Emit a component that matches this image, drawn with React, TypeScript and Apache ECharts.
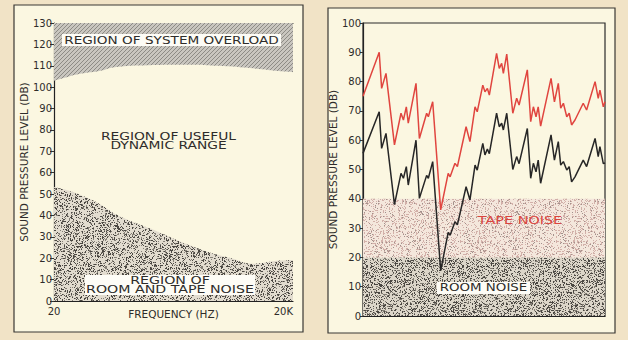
import React, { useEffect, useRef } from 'react';
import * as echarts from 'echarts';

// ---------- Left chart data ----------
const overloadFreqHz = [20, 28, 40, 74, 121, 317, 834, 2200, 5760, 15300, 20000];
const overloadLevelDb = [103, 104.5, 106, 107.5, 109.4, 110.3, 110.5, 110, 108.9, 107.3, 107];
const noiseFreqHz = [20, 28, 40, 74, 121, 317, 1350, 3560, 6200, 12400, 20000];
const noiseLevelDb = [53.3, 52, 50, 45.5, 40.5, 34, 24.3, 19.7, 17.4, 18.8, 19.2];
const freqAxisLabels = ['20', '20K'];

// ---------- Right chart data ----------
const positionPct = [0, 6.7, 7.7, 9.5, 13.0, 15.7, 16.7, 17.9, 18.7, 21.9, 23.3, 26.3, 27.0, 28.8, 32.1,
  35.2, 36.0, 38.0, 39.0, 42.6, 44.2, 46.3, 47.2, 49.5, 50.4, 51.4, 52.2, 55.2, 56.3, 57.3, 58.0, 59.4,
  61.9, 63.5, 64.5, 67.9, 69.3, 70.4, 71.5, 72.4, 73.4, 77.7, 79.1, 80.7, 81.7, 82.8, 84.2, 85.2, 86.2,
  87.6, 91.0, 92.4, 95.9, 97.2, 97.9, 99.3, 100];
const redLevelDb = [75, 90, 77.7, 82.8, 58.4, 69.2, 66.9, 71.4, 65.8, 79.4, 60.6, 69.2, 68, 73.1, 36.2,
  48.7, 47.5, 52.1, 51, 64.6, 59.5, 71.4, 69.7, 78.8, 76.5, 77.7, 75.4, 89.6, 84.5, 86.2, 82.8, 89.4,
  69.2, 74.3, 72, 84, 66.3, 71.4, 68, 71.4, 64.8, 81.1, 73.1, 79.4, 70.9, 72.6, 68, 69.2, 65.2,
  66.9, 72.6, 70.3, 80, 74.3, 77.1, 71.4, 73.1];
const blackLevelDb = [55.5, 69.7, 57.2, 62.3, 38, 48.7, 47, 51, 44.7, 60, 40.2, 48, 47, 52.7, 15.5,
  28.5, 27.6, 32.2, 31.1, 44.1, 39.6, 51.5, 49.8, 58.9, 55, 57, 55.4, 69.2, 64.6, 65.8, 63.5, 69.2,
  50, 54.4, 52, 64, 47, 52.1, 49.2, 53.2, 45.3, 61.8, 53.2, 59.5, 51.5, 52.7, 49.8, 51, 45.8,
  47.5, 53.2, 51, 60.6, 54.4, 57.8, 52, 52.2];
const roomNoiseDb = 20;
const tapeNoiseDb = 40;

const FONT = 'DejaVu Sans';
const INK = '#2e2c2a';

function makeStipple(size: number, bg: string, dots: [string, number][], seed: number) {
  const c = document.createElement('canvas');
  c.width = size;
  c.height = size;
  const ctx = c.getContext('2d')!;
  ctx.fillStyle = bg;
  ctx.fillRect(0, 0, size, size);
  let s = seed >>> 0;
  const rnd = () => {
    s = (Math.imul(s, 1103515245) + 12345) >>> 0;
    return s / 4294967296;
  };
  for (const [col, density] of dots) {
    ctx.fillStyle = col;
    const n = Math.floor(size * size * density);
    for (let i = 0; i < n; i++) {
      ctx.fillRect(Math.floor(rnd() * size), Math.floor(rnd() * size), 1, 1);
    }
  }
  return c;
}

function makeHatch() {
  const c = document.createElement('canvas');
  c.width = 4;
  c.height = 4;
  const ctx = c.getContext('2d')!;
  ctx.fillStyle = '#c9c6bf';
  ctx.fillRect(0, 0, 4, 4);
  ctx.fillStyle = '#8d8b85';
  for (let i = 0; i < 4; i++) ctx.fillRect(i, 3 - i, 1, 1);
  return c;
}

export default function App() {
  const ref = useRef<HTMLDivElement>(null);
  useEffect(() => {
    if (!ref.current) return;
    const chart = echarts.init(ref.current, null, { renderer: 'svg' });

    const hatch = makeHatch();
    const darkStipple = makeStipple(96, '#dcd6c9', [['#4a4742', 0.26], ['#807b72', 0.16]], 7);
    const leftStipple = makeStipple(96, '#e2dccf', [['#4a4742', 0.24], ['#858077', 0.14]], 29);
    const pinkStipple = makeStipple(96, '#f4e7dc', [['#d2b0a9', 0.22], ['#a2918c', 0.06]], 13);

    const toDecades = (f: number) => Math.log10(f / 20);
    const axisLabelStyle = { color: INK, fontSize: 10, fontFamily: FONT };

    const option: any = {
      animation: false,
      backgroundColor: 'transparent',
      textStyle: { fontFamily: FONT },
      grid: [
        { left: 54, top: 23, width: 239, height: 278, show: false },
        { left: 363, top: 23, width: 242, height: 293, show: true, borderColor: '#2b2b2b', borderWidth: 1.2, backgroundColor: 'transparent' },
      ],
      xAxis: [
        {
          gridIndex: 0, type: 'value', min: 0, max: 3, interval: 3,
          axisLine: { show: true, lineStyle: { color: '#222', width: 1.2 } },
          axisTick: { show: false }, splitLine: { show: false },
          axisLabel: {
            ...axisLabelStyle, margin: 5,
            formatter: (v: number) => (v === 0 ? freqAxisLabels[0] : freqAxisLabels[1]),
            alignMinLabel: 'center', alignMaxLabel: 'right',
          },
          name: 'FREQUENCY (HZ)', nameLocation: 'middle', nameGap: 7, nameMoveOverlap: false,
          nameTextStyle: { color: INK, fontSize: 10.5, fontFamily: FONT },
        },
        {
          gridIndex: 0, type: 'value', min: 0, max: 3, position: 'top',
          axisLine: { show: true, lineStyle: { color: '#333', width: 1 } },
          axisTick: { show: false }, axisLabel: { show: false }, splitLine: { show: false },
        },
        {
          gridIndex: 1, type: 'value', min: 0, max: 100,
          axisLine: { show: true, lineStyle: { color: '#222', width: 1.2 } },
          axisTick: { show: false }, axisLabel: { show: false }, splitLine: { show: false },
        },
      ],
      yAxis: [
        {
          gridIndex: 0, type: 'value', min: 0, max: 130, interval: 10,
          axisLine: { show: true, lineStyle: { color: '#222', width: 1.2 } },
          axisTick: { show: true, length: 4, lineStyle: { color: '#333' } },
          splitLine: { show: false },
          axisLabel: { ...axisLabelStyle, margin: 2 },
          name: 'SOUND PRESSURE LEVEL (DB)', nameLocation: 'middle', nameGap: 21,
          nameTextStyle: { color: INK, fontSize: 10.5, fontFamily: FONT },
        },
        {
          gridIndex: 1, type: 'value', min: 0, max: 100, interval: 10,
          axisLine: { show: true, lineStyle: { color: '#222', width: 1.2 } },
          axisTick: { show: true, length: 3, lineStyle: { color: '#333' } },
          splitLine: { show: false },
          axisLabel: { ...axisLabelStyle, margin: 2 },
          name: 'SOUND PRESSURE LEVEL (DB)', nameLocation: 'middle', nameGap: 19,
          nameTextStyle: { color: INK, fontSize: 10.5, fontFamily: FONT },
        },
      ],
      series: [
        {
          name: 'System overload', type: 'line', xAxisIndex: 0, yAxisIndex: 0,
          data: overloadFreqHz.map((f, i) => [toDecades(f), overloadLevelDb[i]]),
          smooth: true, symbol: 'none', silent: true,
          lineStyle: { width: 0 },
          areaStyle: { origin: 'end', opacity: 1, color: { image: hatch, repeat: 'repeat' } },
        },
        {
          name: 'Room and tape noise', type: 'line', xAxisIndex: 0, yAxisIndex: 0,
          data: noiseFreqHz.map((f, i) => [toDecades(f), noiseLevelDb[i]]),
          smooth: true, symbol: 'none', silent: true,
          lineStyle: { width: 0 },
          areaStyle: { origin: 'start', opacity: 1, color: { image: leftStipple, repeat: 'repeat' } },
        },
        {
          name: 'Noise bands', type: 'line', xAxisIndex: 2, yAxisIndex: 1,
          data: [], symbol: 'none', silent: true, z: 1,
          markArea: {
            silent: true,
            data: [
              [{ yAxis: 0, itemStyle: { color: { image: darkStipple, repeat: 'repeat' }, opacity: 1 } }, { yAxis: roomNoiseDb }],
              [{ yAxis: roomNoiseDb, itemStyle: { color: { image: pinkStipple, repeat: 'repeat' }, opacity: 1 } }, { yAxis: tapeNoiseDb }],
            ],
          },
        },
        {
          name: 'Red', type: 'line', xAxisIndex: 2, yAxisIndex: 1,
          data: positionPct.map((x, i) => [x, redLevelDb[i]]),
          symbol: 'none', z: 5,
          lineStyle: { color: '#e0453f', width: 1.5 },
        },
        {
          name: 'Black', type: 'line', xAxisIndex: 2, yAxisIndex: 1,
          data: positionPct.map((x, i) => [x, blackLevelDb[i]]),
          symbol: 'none', z: 5,
          lineStyle: { color: '#262626', width: 1.5 },
        },
      ],
      graphic: [
        { type: 'rect', z: -10, shape: { x: 14, y: 5, width: 289, height: 327 }, style: { fill: '#fbf7e1', stroke: '#3a3834', lineWidth: 1.2 } },
        { type: 'rect', z: -10, shape: { x: 328, y: 8, width: 287, height: 325 }, style: { fill: '#fbf7e1', stroke: '#3a3834', lineWidth: 1.2 } },
        { type: 'rect', z: 50, shape: { x: 62, y: 34, width: 219, height: 12 }, style: { fill: '#fdfcf6' } },
        { type: 'text', z: 51, x: 171.5, y: 40.5, scaleX: 1.24, style: { text: 'REGION OF SYSTEM OVERLOAD', fill: INK, font: `11px "${FONT}"`, align: 'center', verticalAlign: 'middle' } },
        { type: 'text', z: 51, x: 168.5, y: 137, scaleX: 1.38, style: { text: 'REGION OF USEFUL', fill: INK, font: `10px "${FONT}"`, align: 'center', verticalAlign: 'middle' } },
        { type: 'text', z: 51, x: 168.5, y: 146, scaleX: 1.38, style: { text: 'DYNAMIC RANGE', fill: INK, font: `10px "${FONT}"`, align: 'center', verticalAlign: 'middle' } },
        { type: 'rect', z: 50, shape: { x: 85, y: 275, width: 170, height: 20 }, style: { fill: '#fdfcf6' } },
        { type: 'text', z: 51, x: 170, y: 280.5, scaleX: 1.42, style: { text: 'REGION OF', fill: INK, font: `10px "${FONT}"`, align: 'center', verticalAlign: 'middle' } },
        { type: 'text', z: 51, x: 170, y: 289.5, scaleX: 1.42, style: { text: 'ROOM AND TAPE NOISE', fill: INK, font: `10px "${FONT}"`, align: 'center', verticalAlign: 'middle' } },
        { type: 'text', z: 51, x: 520, y: 220, scaleX: 1.44, style: { text: 'TAPE NOISE', fill: '#d9443e', font: `10px "${FONT}"`, align: 'center', verticalAlign: 'middle' } },
        { type: 'rect', z: 50, shape: { x: 437, y: 282, width: 93, height: 12 }, style: { fill: '#fdfcf6' } },
        { type: 'text', z: 51, x: 483.5, y: 288, scaleX: 1.34, style: { text: 'ROOM NOISE', fill: INK, font: `10px "${FONT}"`, align: 'center', verticalAlign: 'middle' } },
      ],
    };
    chart.setOption(option);
    return () => chart.dispose();
  }, []);

  return (
    <div style={{ position: 'absolute', left: 0, top: 0, width: 628, height: 340, background: '#f1e3c6' }}>
      <div ref={ref} style={{ width: 628, height: 340 }} />
    </div>
  );
}
